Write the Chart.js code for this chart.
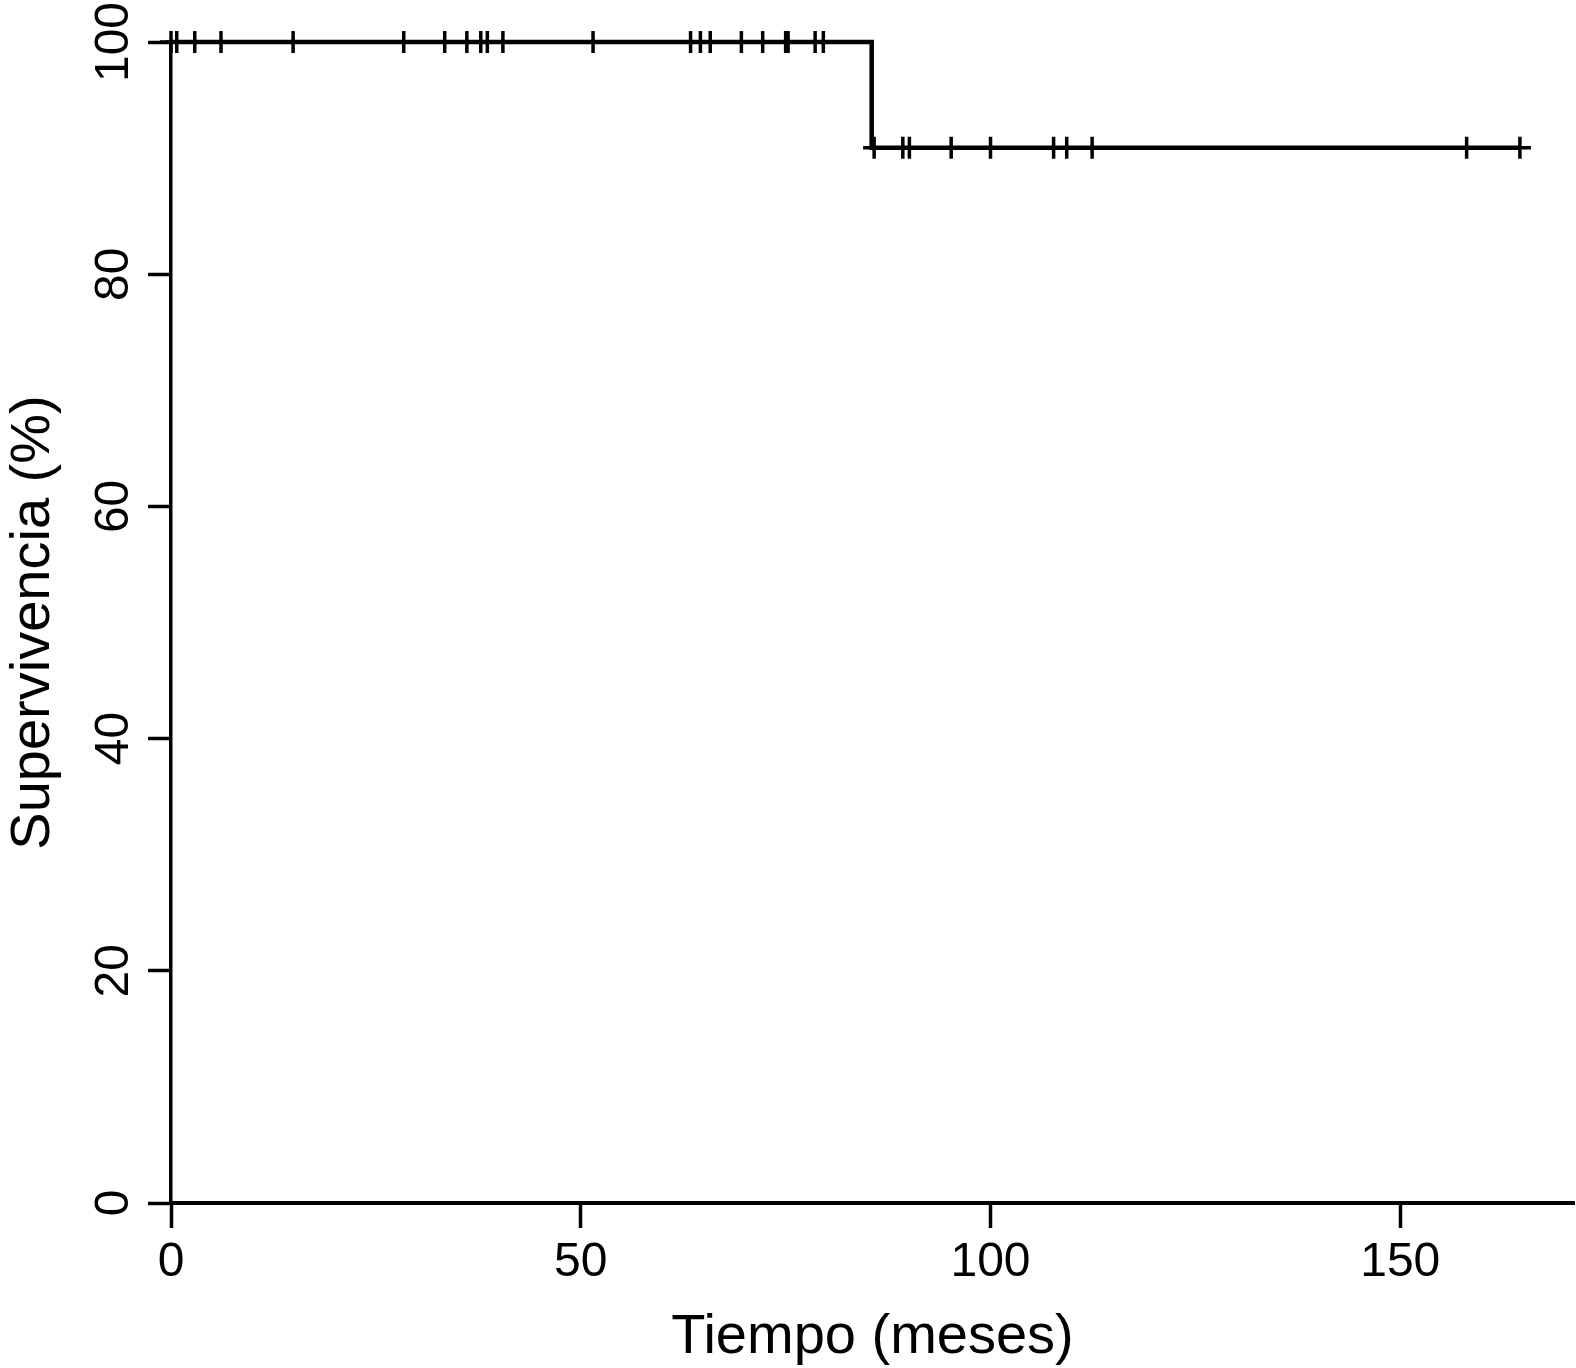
<!DOCTYPE html>
<html>
<head>
<meta charset="utf-8">
<title>Supervivencia</title>
<script src="https://cdn.jsdelivr.net/npm/chart.js@4.4.1/dist/chart.umd.min.js"></script>
<style>
  html, body { margin: 0; padding: 0; background: #fff; }
  #wrap { width: 1576px; height: 1368px; }
</style>
</head>
<body>
<div id="wrap"><canvas id="km" width="1576" height="1368"></canvas></div>
<script>
// Kaplan-Meier steps (months, survival %)
const stepTimes = [0, 85.5, 164.6];
const stepSurvival = [100, 90.9, 90.9];

// censored observations (months)
const censoredTimes = [
    0, 0.7, 2.9, 6.1, 14.9, 28.4, 33.4, 36.1, 37.8, 38.6, 40.5, 51.5,
    63.4, 64.6, 65.8, 69.6, 72.2, 75.0, 75.3, 78.6, 79.6,
    85.8, 89.3, 90.1, 95.2, 100.0, 107.7, 109.3, 112.4, 158.1, 164.6,
];

const xTicks = [0, 50, 100, 150];
const yTicks = [0, 20, 40, 60, 80, 100];

// survival level of the step curve at a given time
function levelAt(t) {
    let level = stepSurvival[0];
    for (let i = 0; i < stepTimes.length; i++) {
        if (t >= stepTimes[i]) level = stepSurvival[i];
    }
    return level;
}

const fontFamily = "'Liberation Sans', Arial, Helvetica, sans-serif";

new Chart(document.getElementById("km"), {
    type: "line",
    data: {
        datasets: [
            {
                data: stepTimes.map((t, i) => ({ x: t, y: stepSurvival[i] })),
                borderColor: "#000",
                borderWidth: 4.5,
                stepped: "before",
                pointRadius: 0,
                fill: false,
                clip: false,
            },
            {
                type: "scatter",
                data: censoredTimes.map((t) => ({ x: t, y: levelAt(t) })),
                pointStyle: "cross",
                pointRadius: 11,
                borderColor: "#000",
                backgroundColor: "#000",
                pointBorderWidth: 3.5,
                borderWidth: 3.5,
                showLine: false,
                clip: false,
            },
        ],
    },
    options: {
        responsive: false,
        animation: false,
        layout: {
            autoPadding: false,
            padding: { top: 42, right: 2, left: 0, bottom: 0 },
        },
        plugins: {
            legend: { display: false },
            tooltip: { enabled: false },
        },
        scales: {
            x: {
                type: "linear",
                position: "bottom",
                min: 0,
                max: 171.2,
                afterBuildTicks: (s) => { s.ticks = xTicks.map((v) => ({ value: v })); },
                afterFit: (s) => {
                    s.height = 165;
                    s.paddingLeft = 0;
                    s.paddingRight = 0;
                },
                ticks: {
                    includeBounds: false,
                    maxRotation: 0,
                    color: "#000",
                    padding: 6,
                    font: { family: fontFamily, size: 48 },
                },
                grid: {
                    drawOnChartArea: false,
                    drawTicks: true,
                    tickLength: 25,
                    tickWidth: 3.5,
                    tickColor: "#000",
                },
                border: { display: true, color: "#000", width: 4 },
                title: {
                    display: true,
                    text: "Tiempo (meses)",
                    color: "#000",
                    font: { family: fontFamily, size: 56 },
                    padding: { top: 0, bottom: -3 },
                },
            },
            y: {
                min: 0,
                max: 100,
                afterBuildTicks: (s) => { s.ticks = yTicks.map((v) => ({ value: v })); },
                afterFit: (s) => {
                    s.width = 171;
                    s.paddingTop = 0;
                    s.paddingBottom = 0;
                },
                ticks: {
                    minRotation: 90,
                    maxRotation: 90,
                    crossAlign: "center",
                    color: "#000",
                    padding: -7,
                    font: { family: fontFamily, size: 48 },
                },
                grid: {
                    drawOnChartArea: false,
                    drawTicks: true,
                    tickLength: 23,
                    tickWidth: 3.5,
                    tickColor: "#000",
                },
                border: { display: true, color: "#000", width: 3.5 },
                title: {
                    display: true,
                    text: "Supervivencia (%)",
                    color: "#000",
                    font: { family: fontFamily, size: 56 },
                    padding: { top: 0, bottom: 0 },
                },
            },
        },
    },
});
</script>
</body>
</html>
